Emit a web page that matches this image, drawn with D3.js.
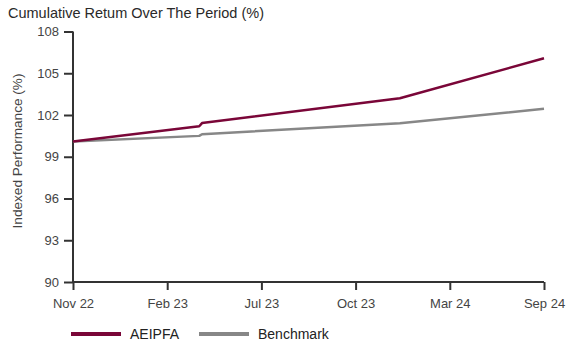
<!DOCTYPE html>
<html>
<head>
<meta charset="utf-8">
<script src="https://cdn.jsdelivr.net/npm/d3@7"></script>
<style>
  body { margin: 0; background: #fff; }
  svg { display: block; font-family: "Liberation Sans", Arial, sans-serif; }
</style>
</head>
<body>
<svg id="chart" width="584" height="345"></svg>
<script>
// tick labels sit at evenly spaced positions 0..5
const xTickLabels = ['Nov 22', 'Feb 23', 'Jul 23', 'Oct 23', 'Mar 24', 'Sep 24'];
const yTicks = [90, 93, 96, 99, 102, 105, 108];

// observation positions on the same 0..5 axis
const obsPos = [0, 1.34, 1.37, 3.47, 5];
const aeipfa = [100.1, 101.19, 101.42, 103.2, 106.08];
const benchmark = [100.1, 100.5, 100.62, 101.4, 102.45];

const seriesNames = ['AEIPFA', 'Benchmark'];
const seriesColors = ['#7a0638', '#878787'];

const svg = d3.select('#chart');
const margin = { top: 31.5, right: 40, bottom: 63, left: 73 };
const W = 584, H = 345;

const x = d3.scaleLinear().domain([0, xTickLabels.length - 1]).range([margin.left, W - margin.right]);
const y = d3.scaleLinear().domain([90, 108]).range([H - margin.bottom, margin.top]);

// title
svg.append('text')
  .attr('x', 8).attr('y', 18)
  .attr('font-size', 14.5).attr('fill', '#2a2a2a')
  .text('Cumulative Retum Over The Period (%)');

// y label
svg.append('text')
  .attr('transform', 'translate(22,151) rotate(-90)')
  .attr('text-anchor', 'middle')
  .attr('font-size', 13.6).attr('fill', '#444')
  .text('Indexed Performance (%)');

const yAxis = svg.append('g')
  .attr('transform', `translate(${margin.left},0)`)
  .call(d3.axisLeft(y).tickValues(yTicks).tickSize(9).tickPadding(5));

const xAxis = svg.append('g')
  .attr('transform', `translate(0,${y(90)})`)
  .call(d3.axisBottom(x).tickValues(d3.range(xTickLabels.length))
    .tickFormat(i => xTickLabels[i]).tickSize(8).tickPadding(9));

[yAxis, xAxis].forEach(a => {
  a.select('.domain').attr('stroke', '#333').attr('stroke-width', 2);
  a.selectAll('.tick line').attr('stroke', '#333').attr('stroke-width', 2);
  a.selectAll('.tick text').attr('font-size', 13).attr('fill', '#444')
    .attr('font-family', '"Liberation Sans", Arial, sans-serif');
});
xAxis.select('.domain').attr('d', `M${x(0)},0H${x(xTickLabels.length - 1)}`);
yAxis.select('.domain').attr('d', `M0,${y(108)}V${y(90)}`);

const line = d3.line().x(d => x(d[0])).y(d => y(d[1]));

// benchmark first so AEIPFA sits on top
[[benchmark, 1], [aeipfa, 0]].forEach(([vals, k]) => {
  svg.append('path')
    .datum(obsPos.map((p, i) => [p, vals[i]]))
    .attr('fill', 'none')
    .attr('stroke', seriesColors[k])
    .attr('stroke-width', 2.5)
    .attr('stroke-linejoin', 'round')
    .attr('d', line);
});

// legend
const legend = svg.append('g').attr('transform', 'translate(71,334)');
const legendX = [0, 128];
seriesNames.forEach((name, i) => {
  const g = legend.append('g').attr('transform', `translate(${legendX[i]},0)`);
  g.append('line').attr('x1', 0).attr('x2', 50).attr('y1', 0).attr('y2', 0)
    .attr('stroke', seriesColors[i]).attr('stroke-width', 4);
  g.append('text').attr('x', 59).attr('y', 5)
    .attr('font-size', 14).attr('fill', '#222').text(name);
});
</script>
</body>
</html>
